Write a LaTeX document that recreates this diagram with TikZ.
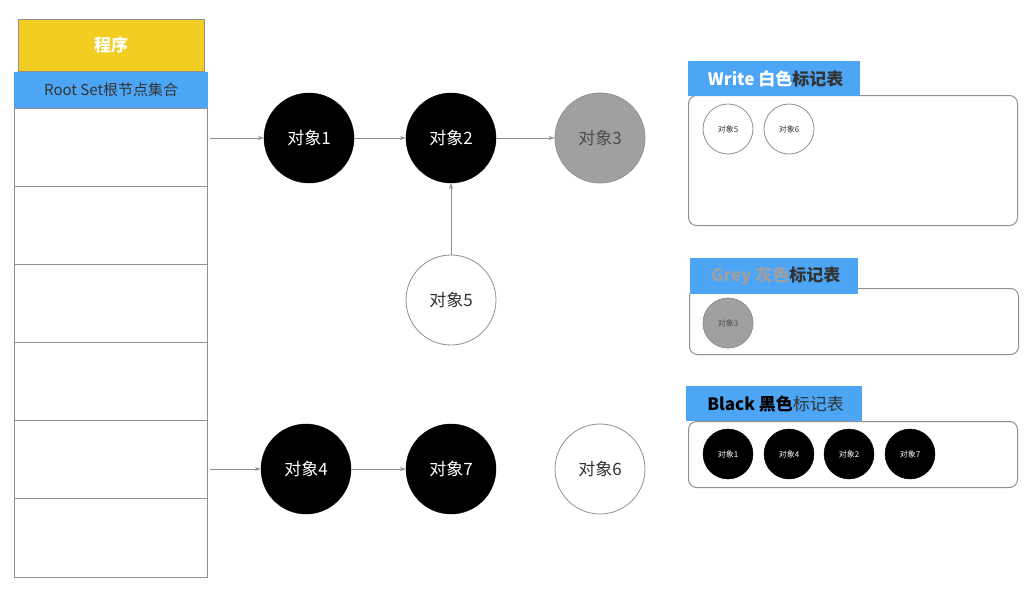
\documentclass[tikz,border=0pt]{standalone}
\usepackage{fontspec}
\setmainfont{Noto Sans CJK SC}
\usetikzlibrary{arrows.meta}
\definecolor{yel}{HTML}{F2CE22}
\definecolor{blu}{HTML}{4DA6F5}
\definecolor{gcir}{HTML}{A0A0A0}
\definecolor{edge}{HTML}{909090}
\tikzset{
 big/.style={circle,minimum size=90pt,inner sep=0pt,font=\fontsize{17}{17}\selectfont},
 small/.style={circle,minimum size=50pt,inner sep=0pt,font=\fontsize{8}{8}\selectfont},
 blk/.style={fill=black,text=white,draw=black},
 wht/.style={fill=white,text=black!80,draw=edge,line width=0.8pt},
 gry/.style={fill=gcir,text=black!70,draw=edge,line width=0.8pt},
 arr/.style={-{Stealth[length=6pt,width=4pt]},draw=edge,line width=0.8pt},
 tbl/.style={draw=edge,line width=1pt,rounded corners=8pt,fill=white},
 lab/.style={fill=blu,anchor=north west,inner sep=0pt,font=\bfseries\fontsize{17}{17}\selectfont}
}
\begin{document}
\begin{tikzpicture}[x=1pt,y=-1pt]
\useasboundingbox (0,0) rectangle (1034,589);
% program
\node[fill=yel,draw=edge,minimum width=186pt,minimum height=52pt,anchor=north west,text=white,font=\bfseries\fontsize{17}{17}\selectfont] (prog) at (18,19) {程序};
\node[fill=blu,minimum width=194pt,minimum height=36pt,anchor=north west,text=black!80,font=\fontsize{15}{15}\selectfont,inner sep=0pt] (root) at (14,72) {Root Set根节点集合};
\draw[draw=edge,line width=1pt] (14,108) rectangle (207,577);
\foreach \y in {186,264,342,420,498} \draw[draw=edge,line width=1pt] (14,\y) -- (207,\y);
\coordinate (r1) at (210,138);
\coordinate (r4) at (210,469);
% objects
\node[big,blk] (o1) at (309,138) {对象1};
\node[big,blk] (o2) at (451,138) {对象2};
\node[big,gry] (o3) at (600,138) {对象3};
\node[big,wht] (o5) at (451,300) {对象5};
\node[big,blk] (o4) at (306,469) {对象4};
\node[big,blk] (o7) at (451,469) {对象7};
\node[big,wht] (o6) at (600,469) {对象6};
\draw[arr] (r1) -- (o1);
\draw[arr] (o1) -- (o2);
\draw[arr] (o2) -- (o3);
\draw[arr] (o5) -- (o2);
\draw[arr] (r4) -- (o4);
\draw[arr] (o4) -- (o7);
% white table
\node[tbl,minimum width=329pt,minimum height=130pt,anchor=north west] (wt) at (688,95) {};
\node[lab,minimum width=172pt,minimum height=35pt] (wl) at (688,61) {\hspace{3pt}\textcolor{white}{Write 白色}\textcolor{black!80}{标记表}\hfill};
\node[small,wht] (w5) at (728,129) {对象5};
\node[small,wht] (w6) at (789,129) {对象6};
% grey table
\node[tbl,minimum width=329pt,minimum height=66pt,anchor=north west] (gt) at (689,288) {};
\node[lab,minimum width=168pt,minimum height=36pt] (gl) at (690,258) {\hspace{3pt}\textcolor{gcir}{Grey 灰色}\textcolor{black!80}{标记表}\hfill};
\node[small,gry] (g3) at (728,323) {对象3};
% black table
\node[tbl,minimum width=329pt,minimum height=66pt,anchor=north west] (bt) at (688,421) {};
\node[lab,minimum width=176pt,minimum height=35pt] (bl) at (686,386) {\hspace{3pt}\textcolor{black}{Black 黑色}\textcolor{black!80}{\mdseries 标记表}\hfill};
\node[small,blk] (b1) at (728,454) {对象1};
\node[small,blk] (b4) at (789,454) {对象4};
\node[small,blk] (b2) at (849,454) {对象2};
\node[small,blk] (b7) at (910,454) {对象7};
\end{tikzpicture}
\end{document}
